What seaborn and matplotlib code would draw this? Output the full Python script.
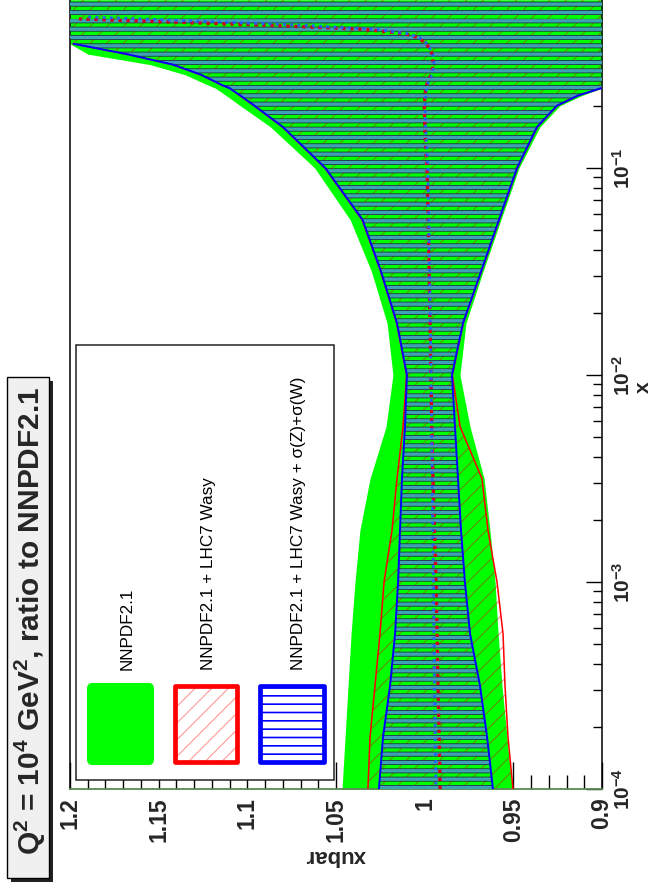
import numpy as np
import matplotlib
matplotlib.use("Agg")
import matplotlib.pyplot as plt
import seaborn as sns
from matplotlib.patches import Rectangle, FancyBboxPatch
from matplotlib.ticker import LogLocator, NullFormatter, MultipleLocator

# ---------------- data (0.9 / 1.2 = off the frame) ----------------
x_vals = [0.0001, 0.000178, 0.000316, 0.000562, 0.001, 0.00178, 0.00316, 0.00562,
          0.01, 0.0178, 0.0316, 0.0562, 0.1, 0.158, 0.200, 0.224, 0.243, 0.251, 0.282,
          0.316, 0.355, 0.398, 0.427, 0.447, 0.468, 0.490, 0.513, 0.525, 0.537,
          0.589, 0.596, 0.624, 0.631, 0.650]

nnpdf_hi = [1.0466, 1.0449, 1.0432, 1.0415, 1.0393, 1.0365, 1.0308, 1.0218,
            1.0179, 1.0212, 1.0300, 1.0420, 1.0620, 1.0870, 1.1040, 1.1120, 1.1180, 1.1220,
            1.1350, 1.1550, 1.1900, 1.2000, 1.2000, 1.2000, 1.2000, 1.2000, 1.2000, 1.2000,
            1.2000, 1.2000, 1.2000, 1.2000, 1.2000, 1.2000]
nnpdf_lo = [0.9507, 0.9536, 0.9564, 0.9586, 0.9603, 0.9632, 0.9665, 0.9744,
            0.9801, 0.9767, 0.9671, 0.9570, 0.9468, 0.9350, 0.9237, 0.9113, 0.9000, 0.9000,
            0.9000, 0.9000, 0.9000, 0.9000, 0.9000, 0.9000, 0.9000, 0.9000, 0.9000, 0.9000,
            0.9000, 0.9000, 0.9000, 0.9000, 0.9000, 0.9000]

wasy_hi = [1.0320, 1.0308, 1.0280, 1.0252, 1.0229, 1.0184, 1.0156, 1.0122,
           1.0102, 1.0158, 1.0248, 1.0353, 1.0563, 1.0803, 1.0963, 1.1043, 1.1100, 1.1143,
           1.1263, 1.1423, 1.1683, 1.1983, 1.2000, 1.2000, 1.2000, 1.2000, 1.2000, 1.2000,
           1.2000, 1.2000, 1.2000, 1.2000, 1.2000, 1.2000]
wasy_lo = [0.9502, 0.9530, 0.9547, 0.9558, 0.9592, 0.9643, 0.9677, 0.9800,
           0.9844, 0.9782, 0.9680, 0.9579, 0.9477, 0.9364, 0.9252, 0.9133, 0.9003, 0.9000,
           0.9000, 0.9000, 0.9000, 0.9000, 0.9000, 0.9000, 0.9000, 0.9000, 0.9000, 0.9000,
           0.9000, 0.9000, 0.9000, 0.9000, 0.9000, 0.9000]
wasy_cv = [0.9913, 0.9918, 0.9925, 0.9930, 0.9936, 0.9945, 0.9953, 0.9960,
           0.9965, 0.9970, 0.9975, 0.9980, 0.9987, 1.0000, 1.0002, 0.9998, 0.9993, 0.9990,
           0.9965, 0.9950, 0.9958, 0.9990, 1.0040, 1.0120, 1.0350, 1.0900, 1.1600, 1.1950,
           1.2000, 1.2000, 0.9000, 0.9000, 0.9000, 0.9000]

full_hi = [1.0258, 1.0235, 1.0195, 1.0167, 1.0150, 1.0139, 1.0128, 1.0111,
           1.0100, 1.0156, 1.0246, 1.0350, 1.0560, 1.0800, 1.0960, 1.1040, 1.1100, 1.1140,
           1.1260, 1.1420, 1.1680, 1.1980, 1.2000, 1.2000, 1.2000, 1.2000, 1.2000, 1.2000,
           0.9000, 0.9000, 0.9000, 0.9000, 0.9000, 0.9000]
full_lo = [0.9615, 0.9648, 0.9688, 0.9744, 0.9773, 0.9795, 0.9812, 0.9829,
           0.9846, 0.9784, 0.9682, 0.9581, 0.9479, 0.9366, 0.9254, 0.9135, 0.9005, 0.9000,
           0.9000, 0.9000, 0.9000, 0.9000, 0.9000, 0.9000, 0.9000, 0.9000, 0.9000, 0.9000,
           1.2000, 1.2000, 1.2000, 1.2000, 1.2000, 1.2000]
full_cv = [0.9936, 0.9940, 0.9945, 0.9948, 0.9950, 0.9954, 0.9958, 0.9961,
           0.9964, 0.9968, 0.9972, 0.9977, 0.9982, 0.9995, 0.9998, 0.9994, 0.9988, 0.9985,
           0.9960, 0.9946, 0.9955, 0.9985, 1.0030, 1.0100, 1.0280, 1.0700, 1.1300, 1.1600,
           1.1900, 1.2000, 1.2000, 1.2000, 0.9000, 0.9000]

xubar_ticks = [0.9, 0.95, 1.0, 1.05, 1.1, 1.15, 1.2]
xubar_labels = ["0.9", "0.95", "1", "1.05", "1.1", "1.15", "1.2"]
x_ticks = [1e-4, 1e-3, 1e-2, 1e-1]
x_labels = [r"$\mathbf{10^{-4}}$", r"$\mathbf{10^{-3}}$", r"$\mathbf{10^{-2}}$", r"$\mathbf{10^{-1}}$"]
legend_labels = ["NNPDF2.1", "NNPDF2.1 + LHC7 Wasy", "NNPDF2.1 + LHC7 Wasy + \u03c3(Z)+\u03c3(W)"]

R_MIN, R_MAX = 0.9, 1.2

# ---------------- style ----------------
sns.set_theme(style="ticks")
plt.rcParams["font.family"] = ["Liberation Sans", "DejaVu Sans"]
plt.rcParams["mathtext.fontset"] = "custom"
plt.rcParams["mathtext.rm"] = "Liberation Sans"
plt.rcParams["mathtext.bf"] = "Liberation Sans:bold"
plt.rcParams["mathtext.it"] = "Liberation Sans:italic"

W, H = 654, 888
fig = plt.figure(figsize=(W / 100, H / 100), dpi=100)
fig.patch.set_facecolor("white")


def fx(px):
    return px / W


def fy(py):
    return 1 - py / H


def hatch_lw(artist, lw):
    if hasattr(artist, "set_hatch_linewidth"):
        artist.set_hatch_linewidth(lw)


def on_frame(arr):
    a = np.asarray(arr, dtype=float)
    return np.where((a <= R_MIN) | (a >= R_MAX), np.nan, a)


AX_L, AX_R, AX_B, AX_T = 70, 602, 789, -14
ax = fig.add_axes([fx(AX_L), fy(AX_B), fx(AX_R) - fx(AX_L), (AX_B - AX_T) / H])
ax.set_facecolor("white")
ax.set_yscale("log")
ax.set_xlim(R_MAX, R_MIN)
ax.set_ylim(1e-4, 10 ** (-4 + (AX_B - AX_T) / 207.0))
ax.set_axisbelow(True)

# bands
ax.fill_betweenx(x_vals, nnpdf_lo, nnpdf_hi, color="#00ff00", lw=0, zorder=1)

plt.rcParams["hatch.linewidth"] = 0.8
c_red = ax.fill_betweenx(x_vals, wasy_lo, wasy_hi, facecolor="none",
                         edgecolor=(0.85, 0.0, 0.0, 0.45), hatch="//", lw=0, zorder=2)
hatch_lw(c_red, 0.8)

plt.rcParams["hatch.linewidth"] = 3.6
c_b1 = ax.fill_betweenx(x_vals, full_lo, full_hi, facecolor="none",
                        edgecolor="#1c3840", hatch="--", lw=0, zorder=3)
hatch_lw(c_b1, 3.6)
plt.rcParams["hatch.linewidth"] = 2.4
c_b2 = ax.fill_betweenx(x_vals, full_lo, full_hi, facecolor="none",
                        edgecolor="#3fa2b4", hatch="--", lw=0, zorder=3.1)
hatch_lw(c_b2, 2.4)

# edge lines (only where they lie inside the frame)
for arr in (wasy_lo, wasy_hi):
    ax.plot(on_frame(arr), x_vals, color="#ff0000", lw=1.1, zorder=4)
for arr in (full_lo, full_hi):
    ax.plot(on_frame(arr), x_vals, color="#0000ff", lw=1.4, zorder=4.1)

# central values (dotted)
sns.lineplot(x=on_frame(wasy_cv), y=x_vals, orient="y", estimator=None, ax=ax,
             color="#d00020", lw=2.4, linestyle=(0, (1, 1.4)), zorder=4.3)
sns.lineplot(x=on_frame(full_cv), y=x_vals, orient="y", estimator=None, ax=ax,
             color="#2060ff", lw=2.0, linestyle=(1, (1, 1.6)), zorder=4.4)

ax.set_xlim(R_MAX, R_MIN)
ax.set_ylim(1e-4, 10 ** (-4 + (AX_B - AX_T) / 207.0))

# axes / ticks
ax.set_xticks(xubar_ticks, xubar_labels, rotation=90, fontsize=16.5, fontweight="bold")
ax.xaxis.set_minor_locator(MultipleLocator(0.01))
ax.tick_params(axis="x", which="major", direction="in", length=19.5, width=1.0,
               pad=6, color="black", bottom=True, top=False)
ax.tick_params(axis="x", which="minor", direction="in", length=10, width=1.0,
               color="black", bottom=True, top=False)

ax.yaxis.tick_right()
ax.yaxis.set_label_position("right")
ax.set_yticks(x_ticks, x_labels, rotation=90, fontsize=15)
ax.yaxis.set_minor_locator(LogLocator(base=10, subs=np.arange(2, 10) * 1.0, numticks=30))
ax.yaxis.set_minor_formatter(NullFormatter())
ax.tick_params(axis="y", which="major", direction="in", length=11.5, width=1.0,
               pad=7, color="black", left=False, right=True)
ax.tick_params(axis="y", which="minor", direction="in", length=6.5, width=1.0,
               color="black", left=False, right=True)
for lab in ax.get_yticklabels():
    lab.set_verticalalignment("center")

ax.set_xlabel("xubar", rotation=180, fontsize=16, fontweight="bold", labelpad=2)
ax.set_ylabel("x", rotation=90, fontsize=15, fontweight="bold", labelpad=0)

for s in ("left", "right", "top"):
    ax.spines[s].set_color("black")
    ax.spines[s].set_linewidth(1.1)
ax.spines["bottom"].set_color("#5b8a55")
ax.spines["bottom"].set_linewidth(1.3)
ax.grid(False)

# ---------------- legend box (rotated layout) ----------------
def frect(x0, y0, x1, y1, **kw):
    r = Rectangle((fx(x0), fy(y1)), fx(x1) - fx(x0), (y1 - y0) / H,
                  transform=fig.transFigure, **kw)
    fig.add_artist(r)
    return r


def fround(x0, y0, x1, y1, **kw):
    r = FancyBboxPatch((fx(x0), fy(y1)), fx(x1) - fx(x0), (y1 - y0) / H,
                       boxstyle="round,pad=0,rounding_size=0.006",
                       transform=fig.transFigure, **kw)
    fig.add_artist(r)
    return r


frect(76, 345, 334, 780, facecolor="white", edgecolor="#222222", lw=1.1, zorder=5)

fround(88, 684, 153, 764, facecolor="#00ff00", edgecolor="#00ff00", lw=1.5, zorder=6)

plt.rcParams["hatch.linewidth"] = 0.8
hr = frect(175, 686, 237, 762, facecolor="white", edgecolor=(1, 0.2, 0.2, 0.5),
           hatch="//", lw=0, zorder=6)
hatch_lw(hr, 0.8)
frect(175, 686, 237, 762, facecolor="none", edgecolor="#ff0000", lw=3.4,
      joinstyle="round", zorder=6.5)

plt.rcParams["hatch.linewidth"] = 1.2
hb = frect(260, 686, 324, 762, facecolor="white", edgecolor="#0000ff",
           hatch="--", lw=0, zorder=6)
hatch_lw(hb, 1.2)
frect(260, 686, 324, 762, facecolor="none", edgecolor="#0000ff", lw=3.4,
      joinstyle="round", zorder=6.5)

for xc, txt in zip([127, 209, 299], legend_labels):
    fig.text(fx(xc), fy(670), txt, rotation=90, ha="center", va="bottom",
             fontsize=12.3, color="black", zorder=7)

# ---------------- title box ----------------
frect(11, 381, 53, 882, facecolor="#222222", edgecolor="none", zorder=5)
frect(7, 377, 49, 878, facecolor="#f0f0f0", edgecolor="black", lw=1.0, zorder=5.5)
fig.text(fx(30), fy(621),
         r"Q$^{\mathbf{2}}$ = 10$^{\mathbf{4}}$ GeV$^{\mathbf{2}}$, ratio to NNPDF2.1",
         rotation=90, ha="center", va="center", fontsize=21.5, fontweight="bold",
         zorder=6)

fig.savefig("out.png", dpi=100)
